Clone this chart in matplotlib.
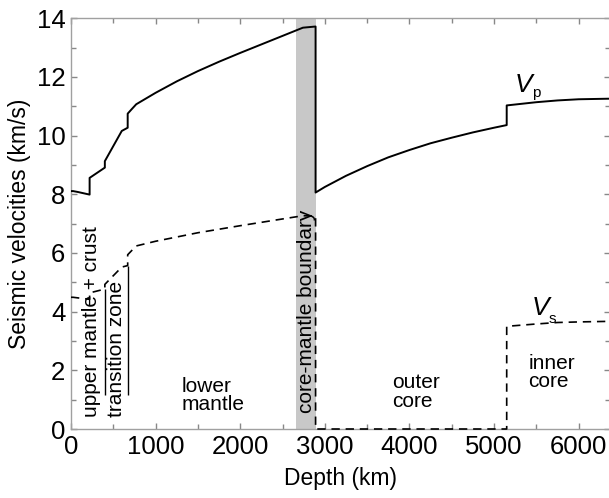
import matplotlib
matplotlib.use("Agg")
import matplotlib.pyplot as plt
from matplotlib.ticker import MultipleLocator

plt.rcParams['font.family'] = ['Liberation Sans', 'DejaVu Sans']

depth_p = [0, 24.4, 80, 220, 220, 400, 400, 600, 670, 670, 720, 771, 1000, 1250, 1500,
           1750, 2000, 2250, 2500, 2741, 2891, 2891, 3000, 3250, 3500, 3750, 4000, 4250,
           4500, 4750, 5000, 5150, 5150, 5500, 5750, 6000, 6371]
vp = [8.11, 8.11, 8.08, 7.99, 8.56, 8.91, 9.13, 10.16, 10.27, 10.75, 10.91, 11.07, 11.46,
      11.85, 12.20, 12.52, 12.82, 13.11, 13.40, 13.68, 13.72, 8.06, 8.25, 8.63, 8.96, 9.26,
      9.51, 9.74, 9.93, 10.11, 10.27, 10.36, 11.03, 11.14, 11.20, 11.24, 11.26]

depth_s = [0, 24.4, 80, 220, 220, 400, 400, 600, 670, 670, 720, 771, 1000, 1500, 2000,
           2500, 2741, 2891, 2891, 5150, 5150, 5500, 5750, 6000, 6371]
vs = [4.49, 4.49, 4.47, 4.42, 4.64, 4.77, 4.93, 5.52, 5.57, 5.94, 6.09, 6.24, 6.40, 6.69,
      6.93, 7.16, 7.27, 7.26, 0, 0, 3.50, 3.58, 3.63, 3.65, 3.67]

boundary_band = (2660, 2891)
marker_depths = [400, 670]
marker_tops = [4.77, 5.57]

fig = plt.figure(figsize=(6.09, 4.98), dpi=100)
ax = fig.add_axes([71 / 609, 69 / 498, 539 / 609, 410.7 / 498])

ax.axvspan(boundary_band[0], boundary_band[1], color='#c8c8c8', lw=0, zorder=0)
ax.plot(depth_p, vp, color='black', lw=1.4, zorder=3)
ax.plot(depth_s, vs, color='black', lw=1.2, ls=(0, (5, 3.5)), zorder=3, clip_on=False)
ax.vlines(marker_depths, 1.15, marker_tops, color='black', lw=1.0)

ax.set_xlim(0, 6371)
ax.set_ylim(0, 14)
ax.xaxis.set_major_locator(MultipleLocator(1000))
ax.xaxis.set_minor_locator(MultipleLocator(500))
ax.yaxis.set_major_locator(MultipleLocator(2))
ax.yaxis.set_minor_locator(MultipleLocator(1))
ax.tick_params(which='both', direction='in', top=True, right=True, color='#888888',
               labelsize=18.5, pad=4)
ax.tick_params(which='major', length=4.5, width=1)
ax.tick_params(which='minor', length=3.5, width=1)
for s in ax.spines.values():
    s.set_color('#a0a0a0')
    s.set_linewidth(1.0)

ax.set_xlabel('Depth (km)', fontsize=16.5, labelpad=6)
ax.set_ylabel('Seismic velocities (km/s)', fontsize=16.5, labelpad=4)

fs = 15
ax.text(303, 0.41, 'upper mantle + crust', fontsize=fs, rotation=90,
        rotation_mode='anchor', ha='left', va='baseline')
ax.text(598, 0.41, 'transition zone', fontsize=fs, rotation=90,
        rotation_mode='anchor', ha='left', va='baseline')
ax.text(2849, 0.55, 'core-mantle boundary', fontsize=fs, rotation=90,
        rotation_mode='anchor', ha='left', va='baseline')
ax.text(1310, 0.65, 'lower\nmantle', fontsize=fs, ha='left', va='baseline', linespacing=0.95)
ax.text(3790, 0.76, 'outer\ncore', fontsize=fs, ha='left', va='baseline', linespacing=0.95)
ax.text(5407, 1.43, 'inner\ncore', fontsize=fs, ha='left', va='baseline', linespacing=0.95)

ax.text(5250, 11.49, 'V', fontsize=19, style='italic', ha='left', va='baseline')
ax.text(5455, 11.33, 'p', fontsize=11, ha='left', va='baseline')
ax.text(5450, 3.88, 'V', fontsize=19, style='italic', ha='left', va='baseline')
ax.text(5650, 3.62, 's', fontsize=11, ha='left', va='baseline')

fig.savefig('out.png', dpi=100)
